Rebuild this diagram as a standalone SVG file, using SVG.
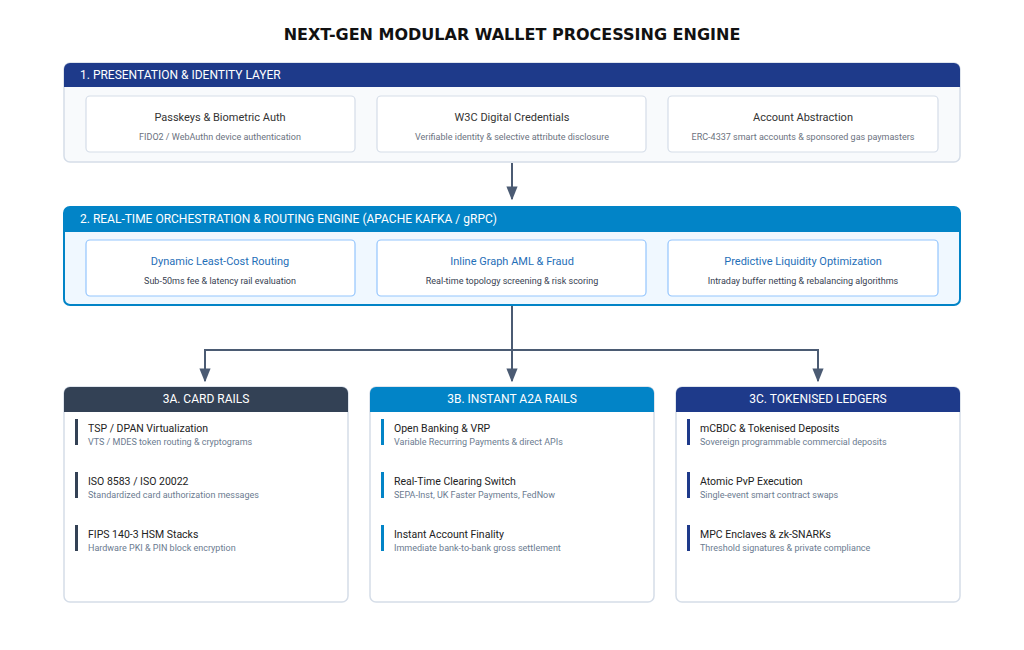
<svg xmlns="http://www.w3.org/2000/svg" width="1024" height="650" viewBox="0 0 1024 650">
<defs>
<marker id="ah" viewBox="0 0 10 10" refX="9" refY="5" markerWidth="7" markerHeight="7" orient="auto"><path d="M0,1 L10,5 L0,9 z" fill="#4b5b73"/></marker>
<style>
text{font-family:Roboto,"Liberation Sans",sans-serif}
.title{font-family:"DejaVu Sans",sans-serif;font-weight:bold;font-size:16px;fill:#111}
.hdr{font-size:12px;fill:#fff}
.ct{font-size:11px;fill:#333;text-anchor:middle}
.ct2{font-size:11px;fill:#1f6fb8;text-anchor:middle}
.cs{font-size:9px;fill:#6b7280;text-anchor:middle}
.cs2{font-size:9px;fill:#374151;text-anchor:middle}
.it{font-size:10.5px;fill:#222}
.is{font-size:9px;fill:#6b7b90}
.card{fill:#fff;stroke:#d5dde8;stroke-width:1.2}
.card2{fill:#fff;stroke:#93c5fd;stroke-width:1.2}
.col{fill:#fff;stroke:#d5dde8;stroke-width:1.5}
.conn{fill:none;stroke:#4b5b73;stroke-width:2}
</style>
</defs>
<rect width="1024" height="650" fill="#fff"/>
<text x="512" y="40" text-anchor="middle" class="title">NEXT-GEN MODULAR WALLET PROCESSING ENGINE</text>

<g id="layer1">
<rect x="64" y="63" width="896" height="99" rx="6" fill="#f8fafc" stroke="#d5dde8" stroke-width="1.5"/>
<path d="M70,63 H954 A6,6 0 0 1 960,69 V87 H64 V69 A6,6 0 0 1 70,63 Z" fill="#1e3a8a"/>
<text x="80" y="79" class="hdr">1. PRESENTATION &amp; IDENTITY LAYER</text>
<rect x="86" y="96" width="269" height="56" rx="4" class="card"/>
<text x="220" y="121" class="ct">Passkeys &amp; Biometric Auth</text>
<text x="220" y="140" class="cs">FIDO2 / WebAuthn device authentication</text>
<rect x="377" y="96" width="269" height="56" rx="4" class="card"/>
<text x="512" y="121" class="ct">W3C Digital Credentials</text>
<text x="512" y="140" class="cs">Verifiable identity &amp; selective attribute disclosure</text>
<rect x="668" y="96" width="270" height="56" rx="4" class="card"/>
<text x="803" y="121" class="ct">Account Abstraction</text>
<text x="803" y="140" class="cs">ERC-4337 smart accounts &amp; sponsored gas paymasters</text>
</g>

<g id="layer2">
<rect x="64" y="207" width="896" height="98" rx="6" fill="#f0f8ff" stroke="#0284c7" stroke-width="2"/>
<path d="M70,207 H954 A6,6 0 0 1 960,213 V232 H64 V213 A6,6 0 0 1 70,207 Z" fill="#0284c7"/>
<text x="80" y="223" class="hdr">2. REAL-TIME ORCHESTRATION &amp; ROUTING ENGINE (APACHE KAFKA / gRPC)</text>
<rect x="86" y="240" width="269" height="56" rx="4" class="card2"/>
<text x="220" y="265" class="ct2">Dynamic Least-Cost Routing</text>
<text x="220" y="284" class="cs2">Sub-50ms fee &amp; latency rail evaluation</text>
<rect x="377" y="240" width="269" height="56" rx="4" class="card2"/>
<text x="512" y="265" class="ct2">Inline Graph AML &amp; Fraud</text>
<text x="512" y="284" class="cs2">Real-time topology screening &amp; risk scoring</text>
<rect x="668" y="240" width="270" height="56" rx="4" class="card2"/>
<text x="803" y="265" class="ct2">Predictive Liquidity Optimization</text>
<text x="803" y="284" class="cs2">Intraday buffer netting &amp; rebalancing algorithms</text>
</g>

<g id="connectors">
<line x1="512" y1="163" x2="512" y2="199" class="conn" marker-end="url(#ah)"/>
<line x1="512" y1="306" x2="512" y2="381" class="conn" marker-end="url(#ah)"/>
<polyline points="205,381 205,350 818,350 818,381" class="conn"/>
<line x1="205" y1="360" x2="205" y2="381" class="conn" marker-end="url(#ah)"/>
<line x1="818" y1="360" x2="818" y2="381" class="conn" marker-end="url(#ah)"/>
</g>

<g id="col3a">
<rect x="64" y="387" width="284" height="215" rx="6" class="col"/>
<path d="M70,387 H342 A6,6 0 0 1 348,393 V412 H64 V393 A6,6 0 0 1 70,387 Z" fill="#334155"/>
<text x="206" y="403" text-anchor="middle" class="hdr">3A. CARD RAILS</text>
<rect x="75" y="419" width="3" height="26" fill="#334155"/>
<text x="88" y="432" class="it">TSP / DPAN Virtualization</text>
<text x="88" y="445" class="is">VTS / MDES token routing &amp; cryptograms</text>
<rect x="75" y="472" width="3" height="26" fill="#334155"/>
<text x="88" y="485" class="it">ISO 8583 / ISO 20022</text>
<text x="88" y="498" class="is">Standardized card authorization messages</text>
<rect x="75" y="525" width="3" height="26" fill="#334155"/>
<text x="88" y="538" class="it">FIPS 140-3 HSM Stacks</text>
<text x="88" y="551" class="is">Hardware PKI &amp; PIN block encryption</text>
</g>

<g id="col3b">
<rect x="370" y="387" width="284" height="215" rx="6" class="col"/>
<path d="M376,387 H648 A6,6 0 0 1 654,393 V412 H370 V393 A6,6 0 0 1 376,387 Z" fill="#0284c7"/>
<text x="512" y="403" text-anchor="middle" class="hdr">3B. INSTANT A2A RAILS</text>
<rect x="381" y="419" width="3" height="26" fill="#0284c7"/>
<text x="394" y="432" class="it">Open Banking &amp; VRP</text>
<text x="394" y="445" class="is">Variable Recurring Payments &amp; direct APIs</text>
<rect x="381" y="472" width="3" height="26" fill="#0284c7"/>
<text x="394" y="485" class="it">Real-Time Clearing Switch</text>
<text x="394" y="498" class="is">SEPA-Inst, UK Faster Payments, FedNow</text>
<rect x="381" y="525" width="3" height="26" fill="#0284c7"/>
<text x="394" y="538" class="it">Instant Account Finality</text>
<text x="394" y="551" class="is">Immediate bank-to-bank gross settlement</text>
</g>

<g id="col3c">
<rect x="676" y="387" width="284" height="215" rx="6" class="col"/>
<path d="M682,387 H954 A6,6 0 0 1 960,393 V412 H676 V393 A6,6 0 0 1 682,387 Z" fill="#1e3a8a"/>
<text x="818" y="403" text-anchor="middle" class="hdr">3C. TOKENISED LEDGERS</text>
<rect x="687" y="419" width="3" height="26" fill="#1e3a8a"/>
<text x="700" y="432" class="it">mCBDC &amp; Tokenised Deposits</text>
<text x="700" y="445" class="is">Sovereign programmable commercial deposits</text>
<rect x="687" y="472" width="3" height="26" fill="#1e3a8a"/>
<text x="700" y="485" class="it">Atomic PvP Execution</text>
<text x="700" y="498" class="is">Single-event smart contract swaps</text>
<rect x="687" y="525" width="3" height="26" fill="#1e3a8a"/>
<text x="700" y="538" class="it">MPC Enclaves &amp; zk-SNARKs</text>
<text x="700" y="551" class="is">Threshold signatures &amp; private compliance</text>
</g>
</svg>
